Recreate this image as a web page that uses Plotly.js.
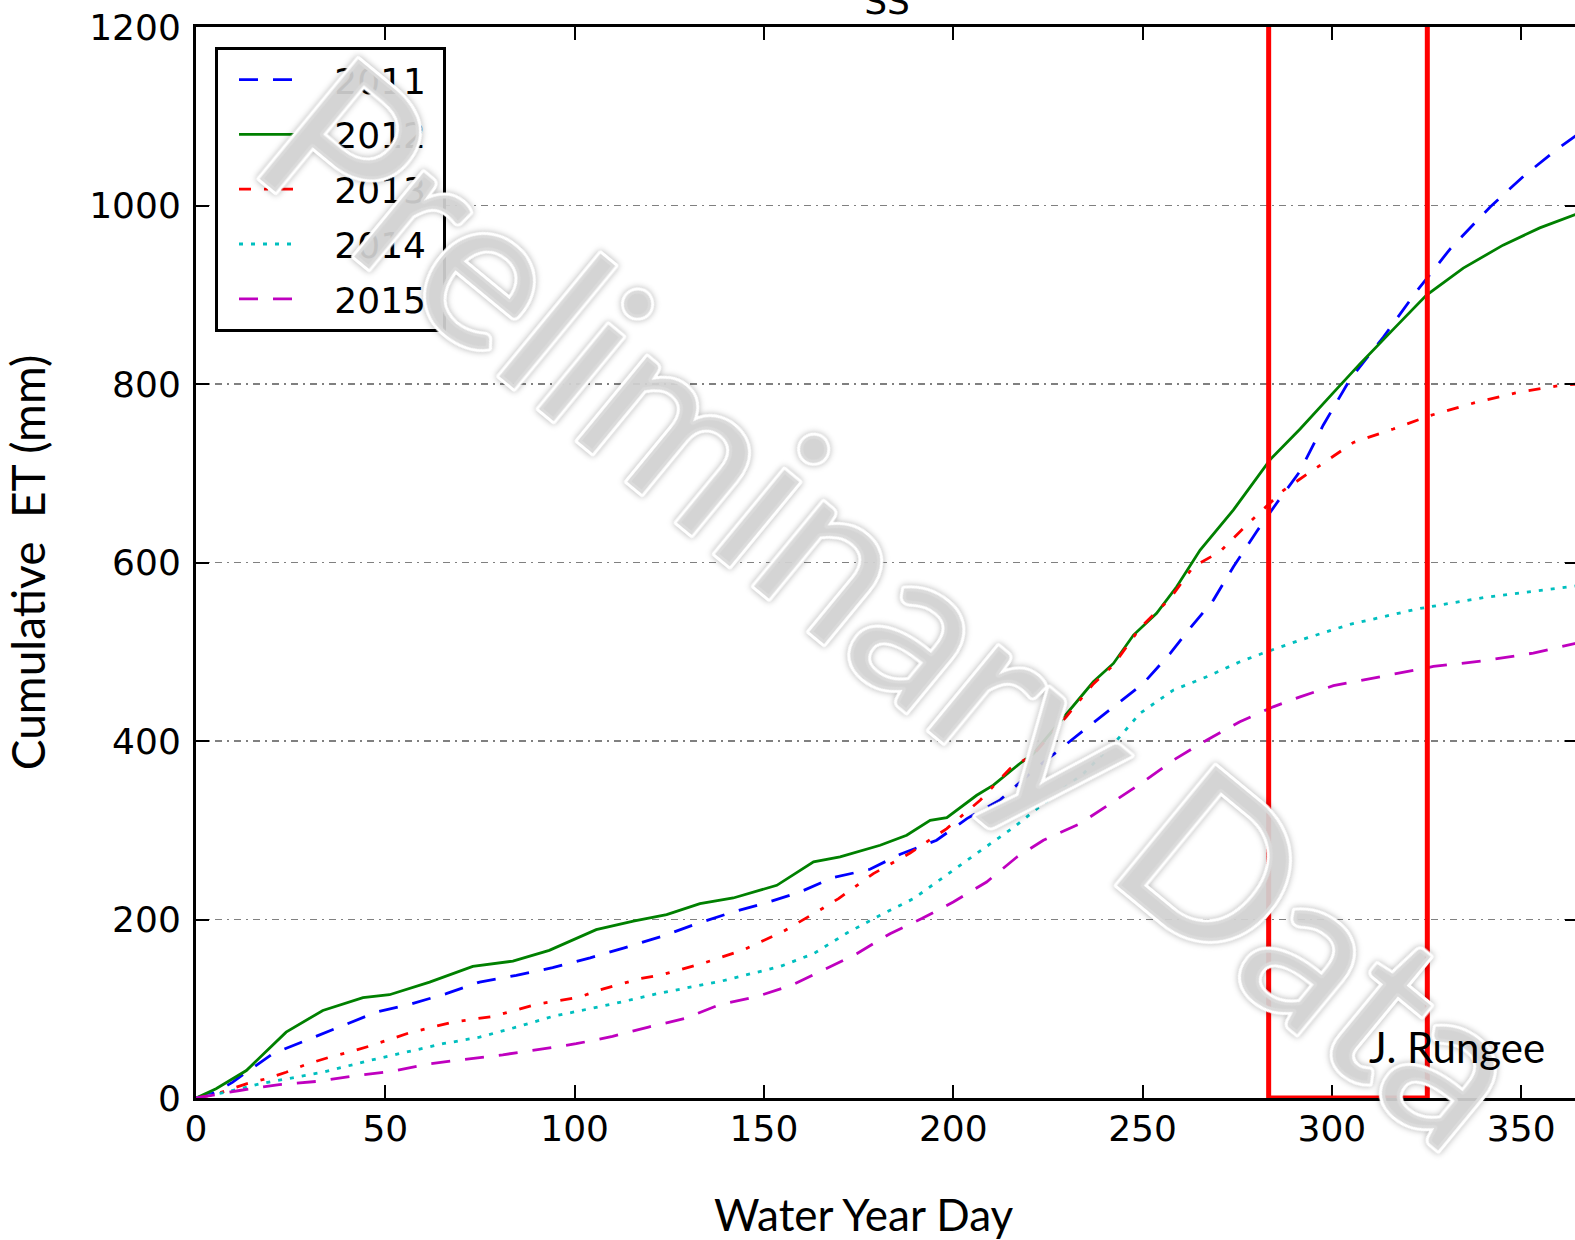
<!DOCTYPE html>
<html>
<head>
<meta charset="utf-8">
<script src="https://cdn.plot.ly/plotly-3.0.1.min.js"></script>
<style>
  html, body { margin: 0; padding: 0; width: 1575px; height: 1240px; overflow: hidden; background: #fff; }
  #chart { position: absolute; left: 0; top: -40px; width: 1590px; height: 1280px; }
  .annotation[data-index="0"] .annotation-text {
    stroke: #ffffff; stroke-width: 6px; paint-order: stroke; stroke-linejoin: round;
    filter: drop-shadow(0 0 3px rgba(0,0,0,0.3));
  }
</style>
</head>
<body>
<div id="chart"></div>
<script>
// ---- data ----
const days2011 = [0, 5, 9.7, 13.3, 20.3, 29.1, 37.9, 47.6, 56.4, 66.1, 74.9, 84.6, 94.2, 104.1, 112.9, 122.6, 131.4, 141.1, 150.8, 159.5, 168.3, 178, 186, 195.6, 203.6, 212.4, 221.2, 230, 242.3, 250.2, 257.3, 262.5, 268.7, 274, 280.1, 285.4, 291.6, 297.7, 304.8, 313.6, 322.4, 331.2, 341.8, 350.6, 359.4, 365];
const et2011 = [0, 6, 17.7, 28.9, 49.6, 64.5, 79.4, 96.2, 104.9, 116.9, 129.9, 137.4, 146, 157, 168, 180.5, 194, 207.5, 219, 230.8, 246.9, 256.3, 273.1, 288.8, 313.1, 334, 367.3, 397.2, 438.3, 464.5, 498.2, 526.2, 557.9, 595.3, 634.5, 666.4, 702.4, 753.8, 805.3, 852.5, 904, 951.2, 998.4, 1032.8, 1062.8, 1080];

const days2012 = [0, 5.3, 13.3, 23.8, 33.5, 44.1, 51.1, 61.7, 73.1, 83.7, 93.3, 105.7, 115.5, 124.3, 133.1, 141.9, 153.4, 163.1, 170.1, 180.7, 187.7, 193.9, 198.3, 206.2, 210.6, 217.6, 221.2, 230, 237, 242.3, 247.6, 253.7, 259, 265.2, 274, 283.7, 291.6, 300.4, 307.4, 316.2, 325, 334.7, 345.2, 354.9, 365];
const et2012 = [0, 10.3, 30.8, 73.8, 98.1, 112.4, 115.7, 129.9, 147.5, 153.4, 165.4, 188.6, 198.3, 205.4, 217.8, 224.1, 238.3, 264.5, 270.1, 283.2, 294.4, 311.2, 314.2, 339.2, 350.5, 374.8, 386, 430.9, 466.3, 486.9, 518.7, 543, 572.8, 614, 658.9, 715.3, 749.6, 790.3, 822.5, 861.2, 899.7, 929.8, 955.6, 974.9, 991];

const days2013 = [0, 5, 13.3, 18.5, 23.8, 29.1, 35.3, 40.5, 45.8, 56.4, 67.8, 78.4, 89.8, 101.3, 106.5, 117.3, 123, 134, 144.6, 155.1, 164.9, 169.7, 178.9, 188.6, 198.3, 207.1, 215, 221.2, 230, 237, 242.3, 249.4, 257.3, 263.4, 270.4, 278.4, 287.2, 296, 305.7, 316.2, 325.9, 338.2, 348.8, 361.1, 365];
const et2013 = [0, 4, 15.9, 21.5, 28.9, 37.6, 45.8, 51.4, 58.1, 73.1, 85, 91.4, 104.9, 113, 121, 133.7, 138, 151, 166, 186.6, 211, 223.4, 251.4, 274.5, 301.9, 333.6, 369.2, 385, 428, 464, 485, 527, 559.8, 595.3, 612, 645.7, 680.8, 706.6, 734.5, 749.6, 764.6, 779.6, 790.3, 798.9, 800];

const days2014 = [0, 8, 16.8, 23.8, 33.5, 45.8, 55.5, 65.2, 74.9, 84.6, 94.2, 103.9, 111, 122.6, 138.4, 154.3, 163.1, 171.9, 180.7, 189.5, 199.2, 208, 215.9, 223.8, 234.4, 243.2, 249.3, 258.1, 266.9, 275.7, 282.8, 291.6, 304.8, 322.4, 340, 365];
const et2014 = [0, 6.5, 15.9, 21.5, 28.9, 42, 51.4, 60.8, 68.2, 79.4, 91.4, 100, 106.3, 117.6, 130.6, 147.4, 161.7, 184.8, 204.7, 223.4, 253.2, 279.5, 303, 329.9, 363.6, 400.9, 430.9, 457, 471.9, 488.7, 500, 513, 530.7, 547.8, 560.7, 574];

const days2015 = [0, 5, 11.5, 22, 32.6, 42.3, 52, 61.7, 71.3, 81, 90.7, 100.4, 110, 119.5, 129.2, 138.2, 147.7, 157, 165.7, 174.5, 183.3, 191.7, 200, 208.8, 216.8, 223.8, 233.5, 241.4, 250.2, 258.1, 266.9, 275.7, 284.5, 291.6, 300.4, 313.6, 326.8, 340, 353.2, 365];
const et2015 = [0, 4, 8.4, 15.1, 18.8, 25.2, 30, 38.4, 43.2, 48.4, 54.4, 60.8, 69, 79.5, 89.2, 104.5, 113.1, 125.8, 143.4, 161.7, 184.1, 201, 219.6, 242, 270, 288.8, 307.5, 329.9, 354.2, 378.5, 400.9, 421.5, 438.3, 449.5, 462, 472.7, 483.5, 489.8, 498.5, 510];

const seriesNames = ['2011', '2012', '2013', '2014', '2015'];
const highlightDays = [283.3, 325.2];   // red box on the x axis
const highlightEt = [0, 1204];
const xTicks = [0, 50, 100, 150, 200, 250, 300, 350];
const yTicks = [0, 200, 400, 600, 800, 1000, 1200];

// ---- traces ----
const NB = '\u00a0';
const styles = [
  {color: '#0000ff', dash: '19px,15px'},
  {color: '#008000', dash: 'solid'},
  {color: '#ff0000', dash: '12px,13px,4px,13px'},
  {color: '#00bfbf', dash: '4px,8px'},
  {color: '#bf00bf', dash: '19px,15px'}
];
const xs = [days2011, days2012, days2013, days2014, days2015];
const ys = [et2011, et2012, et2013, et2014, et2015];
const traces = seriesNames.map((n, i) => ({
  type: 'scatter', mode: 'lines', name: NB + NB + NB + n + NB, x: xs[i], y: ys[i],
  legendgroup: 'g' + i,
  line: {color: styles[i].color, dash: styles[i].dash, width: 2.8},
  hoverinfo: 'skip'
}));

const tickFont = {family: 'DejaVu Sans', size: 36, color: '#000'};
const txtFont = 'Lato';

const layout = {
  width: 1590, height: 1280,
  margin: {l: 195.6, r: 12.1, t: 67, b: 141.7, autoexpand: false},
  paper_bgcolor: '#fff', plot_bgcolor: '#fff',
  title: {text: 'SS', font: tickFont, x: 0.5, xref: 'paper', y: 1 - 54 / 1280, yref: 'container', yanchor: 'bottom'},
  showlegend: true,
  legend: {
    x: 0.0135, y: 0.9816, xanchor: 'left', yanchor: 'top',
    bordercolor: '#000', borderwidth: 3, bgcolor: '#fff',
    font: {family: 'DejaVu Sans', size: 36, color: '#000'},
    title: {text: NB, side: 'left', font: {family: 'DejaVu Sans', size: 20}},
    traceorder: 'grouped', tracegroupgap: 5, itemwidth: 56
  },
  xaxis: {
    range: [0, 365], tickvals: xTicks, ticktext: xTicks.map(String),
    ticks: 'inside', ticklen: 13, tickwidth: 2, tickcolor: '#000',
    showline: true, linewidth: 3, linecolor: '#000', mirror: 'ticks',
    showgrid: false, zeroline: false, tickfont: tickFont, ticklabelstandoff: -3
  },
  yaxis: {
    range: [0, 1200], tickvals: yTicks, ticktext: yTicks.map(String),
    ticks: 'inside', ticklen: 13, tickwidth: 2, tickcolor: '#000',
    showline: true, linewidth: 3, linecolor: '#000', mirror: 'ticks',
    showgrid: true, gridcolor: '#808080', gridwidth: 1.5, griddash: '7px,5px,2px,5px',
    zeroline: false, tickfont: tickFont, ticklabelstandoff: 5,
    title: {text: 'Cumulative' + NB + ' ET (mm)', font: {family: txtFont, size: 46, color: '#000'}, standoff: 34}
  },
  shapes: [{
    type: 'rect', xref: 'x', yref: 'y',
    x0: highlightDays[0], x1: highlightDays[1], y0: highlightEt[0], y1: highlightEt[1],
    line: {color: '#ff0000', width: 5}, fillcolor: 'rgba(0,0,0,0)', layer: 'above'
  }],
  annotations: [
    {
      text: 'Preliminary Data', xref: 'paper', yref: 'paper', x: 0.5094, y: 0.466,
      xanchor: 'center', yanchor: 'middle', textangle: 39.5, showarrow: false,
      font: {family: txtFont, size: 215, color: 'rgba(215,215,215,0.9)'}
    },
    {
      text: 'J. Rungee', xref: 'paper', yref: 'paper', x: 0.8472, y: 0.048,
      xanchor: 'left', yanchor: 'middle', showarrow: false,
      font: {family: txtFont, size: 42, color: '#000'}
    },
    {
      // x-axis title, placed where the reference has it (left of the plot centre)
      text: 'Water Year Day', xref: 'paper', yref: 'paper', x: 0.4836, y: -0.108,
      xanchor: 'center', yanchor: 'middle', showarrow: false,
      font: {family: txtFont, size: 44, color: '#000'}
    }
  ]
};

Plotly.newPlot('chart', traces, layout, {displayModeBar: false, staticPlot: true});
</script>
</body>
</html>
